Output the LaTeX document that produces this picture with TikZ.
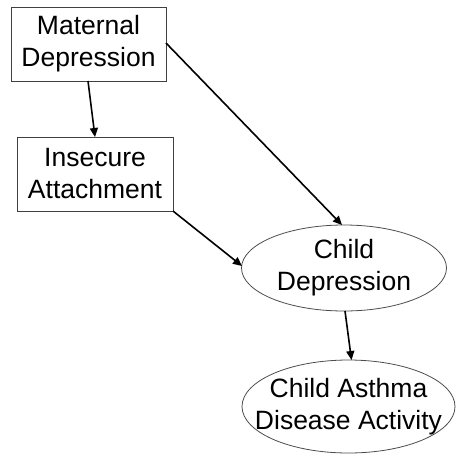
\documentclass[tikz,border=0pt]{standalone}
\usepackage{fontspec}
\setmainfont{Liberation Sans}
\usetikzlibrary{shapes.geometric,arrows.meta}
\begin{document}
\begin{tikzpicture}[x=1pt,y=-1pt,
  txt/.style={font=\fontsize{26.5}{32}\selectfont, align=center, inner sep=0pt, text=black},
  boxnode/.style={txt, draw=black!75, line width=1pt, rectangle},
  ovalnode/.style={draw=black!70, line width=0.8pt, ellipse, inner sep=0pt},
  link/.style={line width=1.6pt, -{Triangle[length=9pt,width=8pt]}}]
  \useasboundingbox (0,0) rectangle (457,455);
  % rectangular boxes
  \node[boxnode, minimum width=155pt, minimum height=74pt] (md) at (88.5,44) {Maternal\\Depression};
  \node[boxnode, minimum width=156pt, minimum height=74pt] (ia) at (95,174) {Insecure\\Attachment};
  % ovals with centred text
  \node[ovalnode, minimum width=205pt, minimum height=86pt,
        label={[txt]center:{Child\\Depression}}] (cd) at (344,268) {};
  \node[ovalnode, minimum width=213pt, minimum height=93pt,
        label={[txt]center:{Child Asthma\\Disease Activity}}] (ca) at (348.5,406.5) {};
  % arrow end points on the node borders
  \coordinate (mdb) at (88,81);
  \coordinate (iat) at (95,137);
  \coordinate (mdr) at (166,43);
  \coordinate (cdt) at (342,225);
  \coordinate (iac) at (173,211);
  \coordinate (cdl) at (242,266);
  \coordinate (cdb) at (345,311);
  \coordinate (cat) at (351.5,360);
  \draw[link] (mdb) -- (iat);
  \draw[link] (mdr) -- (cdt);
  \draw[link] (iac) -- (cdl);
  \draw[link] (cdb) -- (cat);
\end{tikzpicture}
\end{document}
